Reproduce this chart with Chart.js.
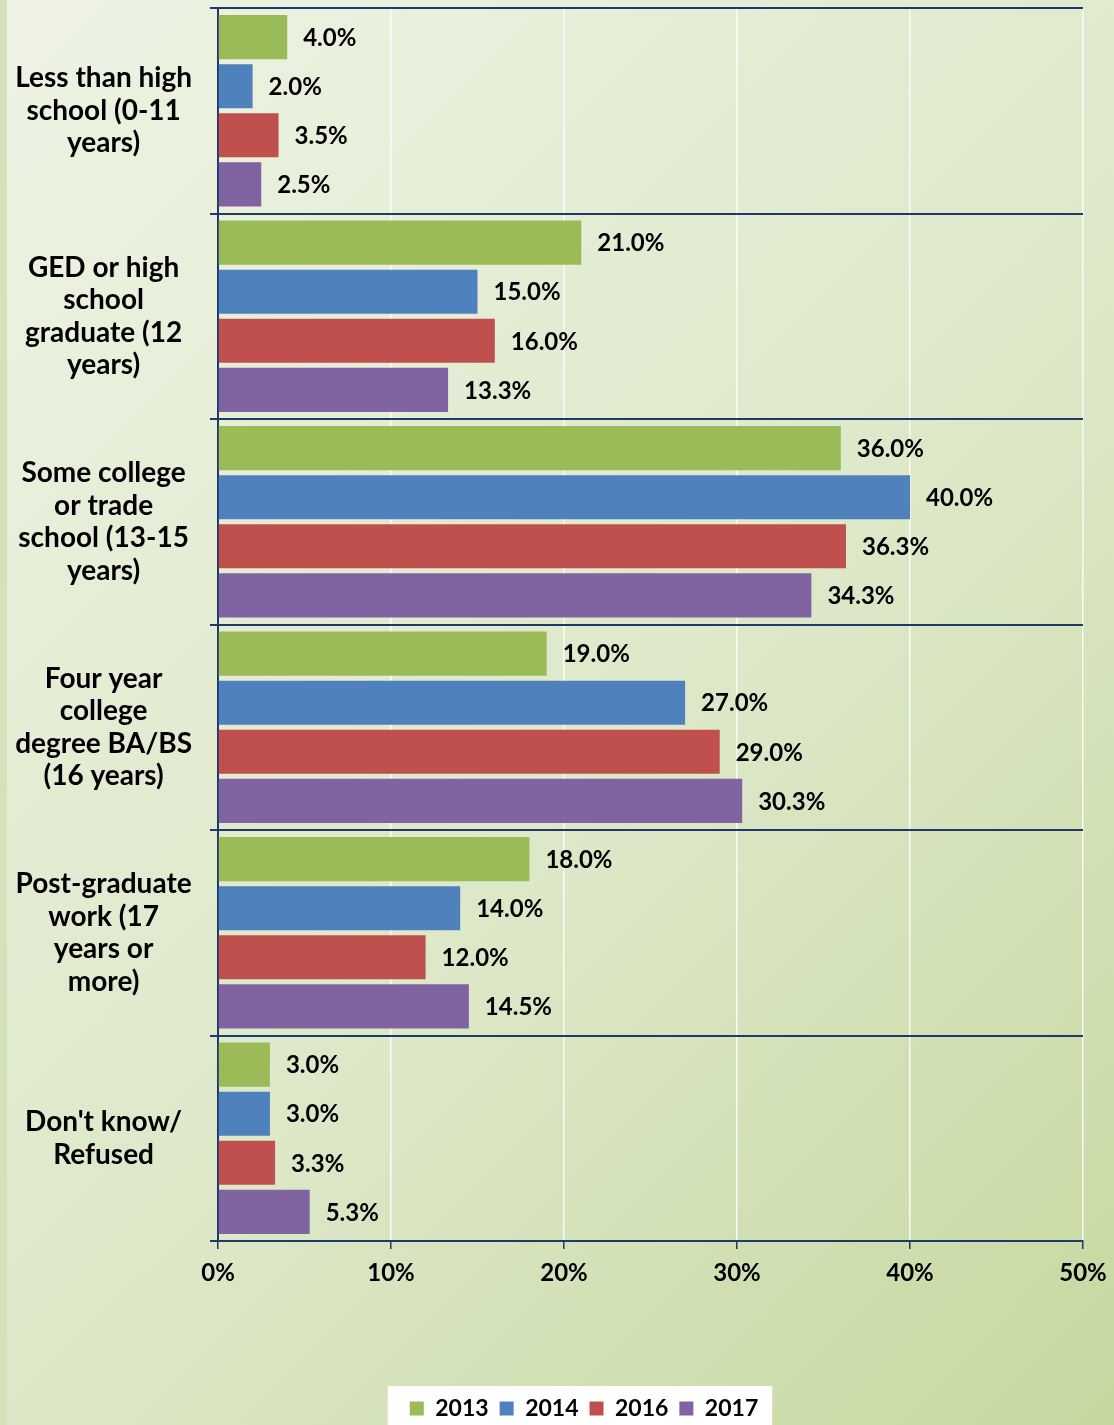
<!DOCTYPE html>
<html>
<head>
<meta charset="utf-8">
<script src="https://cdn.jsdelivr.net/npm/chart.js@4.4.1/dist/chart.umd.min.js"></script>
<style>
    html, body { margin: 0; padding: 0; }
    body {
        width: 1114px; height: 1425px; overflow: hidden;
        background: linear-gradient(135deg, #eef3e4 0%, #dde8c9 55%, #c5d89f 100%);
    }
    #wrap { position: relative; width: 1114px; height: 1425px; }
    #strip { position: absolute; left: 0; top: 0; width: 7px; height: 1425px; background: #d4e2ba; }
</style>
</head>
<body>
<div id="wrap">
    <div id="strip"></div>
    <canvas id="eduChart" width="1114" height="1425"></canvas>
</div>
<script>
// Categories (multi-line labels) and series
const categories = [
    ['Less than high', 'school (0-11', 'years)'],
    ['GED or high', 'school', 'graduate (12', 'years)'],
    ['Some college', 'or trade', 'school (13-15', 'years)'],
    ['Four year', 'college', 'degree BA/BS', '(16 years)'],
    ['Post-graduate', 'work (17', 'years or', 'more)'],
    ["Don't know/", 'Refused']
];
const years = ['2013', '2014', '2016', '2017'];
const values2013 = [4.0, 21.0, 36.0, 19.0, 18.0, 3.0];
const values2014 = [2.0, 15.0, 40.0, 27.0, 14.0, 3.0];
const values2016 = [3.5, 16.0, 36.3, 29.0, 12.0, 3.3];
const values2017 = [2.5, 13.3, 34.3, 30.3, 14.5, 5.3];
const xTicks = [0, 10, 20, 30, 40, 50];

const colors = ['#9bbb59', '#4f81bd', '#c0504d', '#8064a2'];
const navy = '#1f3a68';
const fontFamily = "Lato, 'DejaVu Sans', sans-serif";

// Draws the value labels to the right of each bar
const valueLabels = {
    id: 'valueLabels',
    afterDatasetsDraw(chart) {
        const ctx = chart.ctx;
        ctx.save();
        ctx.font = 'bold 24px ' + fontFamily;
        ctx.fillStyle = '#000';
        ctx.textBaseline = 'middle';
        ctx.textAlign = 'left';
        chart.data.datasets.forEach((ds, i) => {
            chart.getDatasetMeta(i).data.forEach((bar, j) => {
                ctx.fillText(ds.data[j].toFixed(1) + '%', bar.x + 16, bar.y + 1);
            });
        });
        ctx.restore();
    }
};

// Shift the legend so its items sit a bit right of the canvas centre,
// then paint a white box behind them
const legendBox = {
    id: 'legendBox',
    afterLayout(chart) {
        if (chart.legend) chart.legend.left = 85;
    },
    beforeDraw(chart) {
        const lg = chart.legend;
        if (!lg || !lg.legendHitBoxes || !lg.legendHitBoxes.length) return;
        const boxes = lg.legendHitBoxes;
        const left = Math.min(...boxes.map(b => b.left)) - 22;
        const right = Math.max(...boxes.map(b => b.left + b.width)) + 14;
        const ctx = chart.ctx;
        ctx.save();
        ctx.fillStyle = '#ffffff';
        ctx.fillRect(left, lg.top, right - left, chart.height - lg.top);
        ctx.restore();
    }
};

const series = [values2013, values2014, values2016, values2017];

new Chart(document.getElementById('eduChart'), {
    type: 'bar',
    data: {
        labels: categories,
        datasets: years.map((y, i) => ({
            label: y,
            data: series[i],
            backgroundColor: colors[i],
            borderWidth: 0,
            categoryPercentage: 0.955,
            barPercentage: 0.9
        }))
    },
    options: {
        indexAxis: 'y',
        responsive: false,
        animation: false,
        layout: { padding: { top: 8, right: 31, left: 0, bottom: 0 } },
        scales: {
            x: {
                min: 0,
                max: 50,
                afterBuildTicks: (scale) => { scale.ticks = xTicks.map(v => ({ value: v })); },
                afterFit: (scale) => {
                    scale.height = 145;
                    scale.paddingLeft = 0;
                    scale.paddingRight = 0;
                },
                grid: { color: 'rgba(255,255,255,0.85)', lineWidth: 1.5, tickColor: navy, tickLength: 8 },
                border: { color: navy, width: 2 },
                ticks: {
                    color: '#000',
                    padding: 10,
                    font: { family: fontFamily, size: 24, weight: 'bold' },
                    callback: v => v + '%'
                }
            },
            y: {
                afterFit: (scale) => {
                    scale.width = 218;
                    scale.paddingTop = 0;
                    scale.paddingBottom = 0;
                },
                grid: { color: navy, lineWidth: 2, tickColor: navy, tickLength: 8, offset: true },
                border: { color: navy, width: 2 },
                ticks: {
                    color: '#000',
                    padding: 18,
                    crossAlign: 'center',
                    font: { family: fontFamily, size: 28, weight: 'bold', lineHeight: 1.16 }
                }
            }
        },
        plugins: {
            legend: {
                position: 'bottom',
                maxHeight: 39,
                labels: {
                    boxWidth: 14,
                    boxHeight: 14,
                    padding: 11,
                    color: '#000',
                    font: { family: fontFamily, size: 23, weight: 'bold' }
                }
            },
            tooltip: { enabled: false }
        }
    },
    plugins: [legendBox, valueLabels]
});
</script>
</body>
</html>
